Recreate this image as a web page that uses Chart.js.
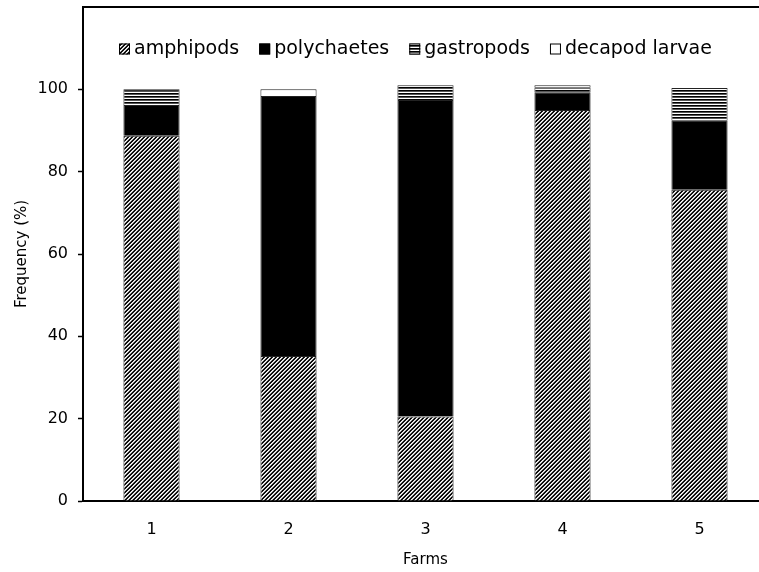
<!DOCTYPE html>
<html>
<head>
<meta charset="utf-8">
<script src="https://cdn.jsdelivr.net/npm/chart.js@4.4.0/dist/chart.umd.min.js"></script>
<style>
  html, body { margin: 0; padding: 0; background: #fff; overflow: hidden; }
  #wrap { width: 780px; height: 572px; }
</style>
</head>
<body>
<div id="wrap"><canvas id="chart" width="780" height="572"></canvas></div>
<script>
// Diet composition per farm (%)
const farms = ['1', '2', '3', '4', '5'];
const amphipods = [88.7, 35.2, 20.5, 95.0, 75.6];
const polychaetes = [7.5, 63.2, 76.9, 4.3, 16.9];
const gastropods = [3.8, 0, 3.6, 1.2, 7.8];
const decapodLarvae = [0, 1.6, 0, 0.5, 0];
const yTicks = [0, 20, 40, 60, 80, 100];

const FONT = 'DejaVu Sans';

// small tiled fills for the bar segments
const makePattern = (w, h, paint) => {
    const c = document.createElement('canvas');
    c.width = w;
    c.height = h;
    const g = c.getContext('2d');
    g.fillStyle = '#fff';
    g.fillRect(0, 0, w, h);
    paint(g);
    return g.createPattern(c, 'repeat');
};

// "/" hatching, slightly soft edges
const hatch = makePattern(4, 4, g => {
    const shades = ['#000', '#222', '#fff', '#bbb'];
    for (let x = 0; x < 4; x++) {
        for (let y = 0; y < 4; y++) {
            g.fillStyle = shades[(x + y) % 4];
            g.fillRect(x, y, 1, 1);
        }
    }
});

// horizontal lines
const lines = makePattern(1, 3, g => {
    g.fillStyle = '#000';
    g.fillRect(0, 0, 1, 1);
    g.fillStyle = '#555';
    g.fillRect(0, 1, 1, 1);
});

// legend drawn inside the plot, near the top
const innerLegend = {
    id: 'innerLegend',
    afterDraw(chart) {
        const ctx = chart.ctx;
        const box = 11;
        const y = 49;
        let x = 119;
        ctx.save();
        ctx.font = `19px "${FONT}"`;
        ctx.textBaseline = 'middle';
        chart.data.datasets.forEach(ds => {
            ctx.fillStyle = ds.backgroundColor;
            ctx.fillRect(x, y - box / 2, box, box);
            ctx.strokeStyle = '#000';
            ctx.lineWidth = 1;
            ctx.strokeRect(x + 0.5, y - box / 2 + 0.5, box - 1, box - 1);
            ctx.fillStyle = '#000';
            ctx.fillText(ds.label, x + box + 4, y);
            x += box + 4 + ctx.measureText(ds.label).width + 20;
        });
        ctx.restore();
    }
};

// top frame line
const topFrame = {
    id: 'topFrame',
    afterDraw(chart) {
        const { ctx, chartArea } = chart;
        ctx.save();
        ctx.strokeStyle = '#000';
        ctx.lineWidth = 2;
        ctx.beginPath();
        ctx.moveTo(chartArea.left - 1, chartArea.top);
        ctx.lineTo(chartArea.right + 20, chartArea.top);
        ctx.stroke();
        ctx.restore();
    }
};

const segment = (label, data, fill) => ({
    label: label,
    data: data,
    backgroundColor: fill,
    borderColor: '#222',
    borderWidth: { left: 1, right: 1, top: 1, bottom: 0 },
    borderSkipped: false,
    categoryPercentage: 1,
    barPercentage: 0.41
});

new Chart(document.getElementById('chart'), {
    type: 'bar',
    data: {
        labels: farms,
        datasets: [
            segment('amphipods', amphipods, hatch),
            segment('polychaetes', polychaetes, '#000'),
            segment('gastropods', gastropods, lines),
            segment('decapod larvae', decapodLarvae, '#fff')
        ]
    },
    options: {
        responsive: false,
        animation: false,
        devicePixelRatio: 1,
        layout: { padding: { top: 7, right: 12, left: 0, bottom: 0 } },
        plugins: {
            legend: { display: false },
            tooltip: { enabled: false }
        },
        scales: {
            x: {
                stacked: true,
                grid: { display: false, drawTicks: false, drawOnChartArea: false },
                border: { display: true, color: '#000', width: 2 },
                ticks: {
                    color: '#000',
                    font: { family: FONT, size: 16 },
                    padding: 19
                },
                title: {
                    display: true,
                    text: 'Farms',
                    color: '#000',
                    font: { family: FONT, size: 15 },
                    padding: { top: 0, bottom: 3 }
                },
                afterFit: s => { s.height = 71; s.paddingLeft = 0; s.paddingRight = 0; }
            },
            y: {
                stacked: true,
                min: 0,
                max: 120,
                afterBuildTicks: s => { s.ticks = yTicks.map(v => ({ value: v })); },
                grid: {
                    drawOnChartArea: false,
                    drawTicks: true,
                    tickLength: 5,
                    tickWidth: 1.5,
                    tickColor: '#000'
                },
                border: { display: true, color: '#000', width: 2 },
                ticks: {
                    color: '#000',
                    font: { family: FONT, size: 16 },
                    padding: 10
                },
                title: {
                    display: true,
                    text: 'Frequency (%)',
                    color: '#000',
                    font: { family: FONT, size: 15 },
                    padding: { top: 13, bottom: 0 }
                },
                afterFit: s => { s.width = 83; s.paddingTop = 0; s.paddingBottom = 0; }
            }
        }
    },
    plugins: [innerLegend, topFrame]
});
</script>
</body>
</html>
